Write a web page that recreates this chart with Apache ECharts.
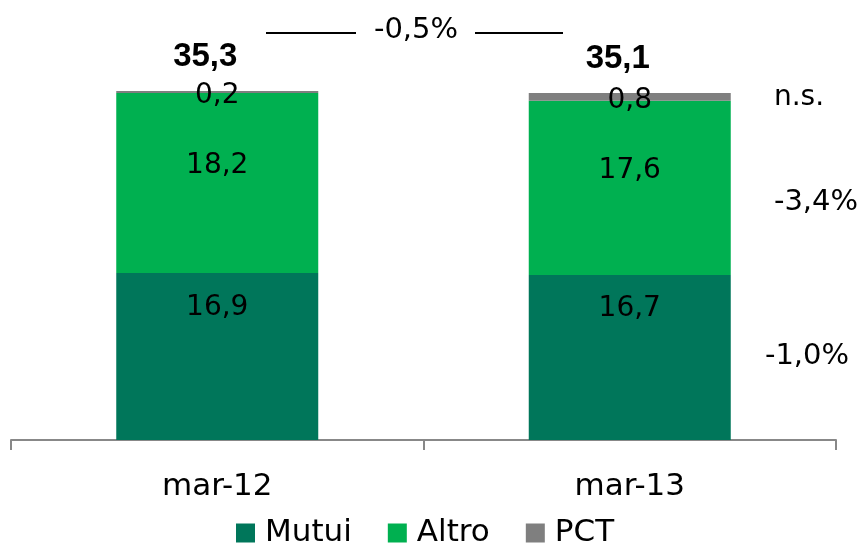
<!DOCTYPE html>
<html>
<head>
<meta charset="utf-8">
<script src="https://cdn.jsdelivr.net/npm/echarts@6/dist/echarts.min.js"></script>
<style>
  html, body { margin: 0; padding: 0; background: #fff; }
  #chart { width: 863px; height: 547px; }
</style>
</head>
<body>
<div id="chart"></div>
<script>
// dati
const categories = ['mar-12', 'mar-13'];
const mutui = [16.9, 16.7];
const altro = [18.2, 17.6];
const pct = [0.2, 0.8];
const totals = [35.3, 35.1];

// variazioni annuali (annotazioni a destra e in alto)
const changeLabels = ['n.s.', '-3,4%', '-1,0%'];
const totalChange = '-0,5%';

const FONT = 'DejaVu Sans';
const fmt = (v) => String(v.toFixed(1)).replace('.', ',');

let chart = echarts.init(document.getElementById('chart'));

let segLabel = (dy) => ({
  show: true,
  position: 'inside',
  offset: [0, dy],
  color: '#000',
  fontFamily: FONT,
  fontSize: 28,
  formatter: (p) => fmt(p.value)
});

chart.setOption({
  animation: false,
  grid: { left: 11, right: 27, top: 44.5, bottom: 107 },
  legend: {
    data: ['Mutui', 'Altro', 'PCT'],
    top: 515,
    left: 236,
    padding: 0,
    itemWidth: 19,
    itemHeight: 19,
    itemGap: 36,
    icon: 'rect',
    textStyle: { fontFamily: FONT, fontSize: 31, lineHeight: 36, color: '#000', padding: [0, 0, 0, 5] }
  },
  xAxis: {
    type: 'category',
    data: categories,
    axisLine: { lineStyle: { color: '#888', width: 2 } },
    axisTick: { show: true, length: 10, lineStyle: { color: '#888', width: 2 } },
    axisLabel: { fontFamily: FONT, fontSize: 31, color: '#000', margin: 31 }
  },
  yAxis: {
    type: 'value',
    min: 0,
    max: 40,
    show: false,
    splitLine: { show: false }
  },
  series: [
    {
      name: 'Mutui', type: 'bar', stack: 'tot', barWidth: 202,
      itemStyle: { color: '#00765A' },
      label: segLabel(-49),
      data: mutui
    },
    {
      name: 'Altro', type: 'bar', stack: 'tot',
      itemStyle: { color: '#00B050' },
      label: segLabel(-17),
      data: altro
    },
    {
      name: 'PCT', type: 'bar', stack: 'tot',
      itemStyle: { color: '#7F7F7F' },
      label: segLabel(4),
      data: pct
    },
    {
      name: 'Totale', type: 'scatter', symbolSize: 0,
      itemStyle: { opacity: 1 },
      label: {
        show: true, position: 'top', offset: [-12, -13],
        fontFamily: 'Liberation Sans', fontWeight: 'bold', fontSize: 33, color: '#000',
        formatter: (p) => fmt(p.value)
      },
      data: totals
    }
  ],
  graphic: [
    { type: 'line', shape: { x1: 266, y1: 33, x2: 356, y2: 33 }, style: { stroke: '#000', lineWidth: 2 } },
    { type: 'line', shape: { x1: 475, y1: 33, x2: 563, y2: 33 }, style: { stroke: '#000', lineWidth: 2 } },
    { type: 'text', x: 416, y: 30, style: { text: totalChange, fontFamily: FONT, fontSize: 29, fill: '#000', align: 'center', verticalAlign: 'middle' } },
    { type: 'text', x: 799, y: 98, style: { text: changeLabels[0], fontFamily: FONT, fontSize: 28, fill: '#000', align: 'center', verticalAlign: 'middle' } },
    { type: 'text', x: 816, y: 202, style: { text: changeLabels[1], fontFamily: FONT, fontSize: 29, fill: '#000', align: 'center', verticalAlign: 'middle' } },
    { type: 'text', x: 807, y: 356, style: { text: changeLabels[2], fontFamily: FONT, fontSize: 29, fill: '#000', align: 'center', verticalAlign: 'middle' } }
  ]
});
</script>
</body>
</html>
